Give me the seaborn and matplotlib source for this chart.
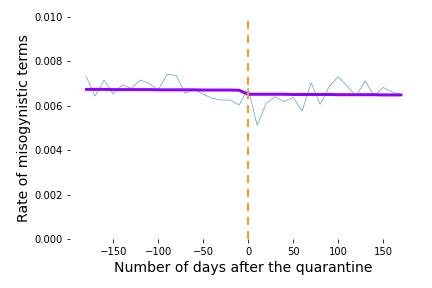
import matplotlib
matplotlib.use("Agg")
import matplotlib.pyplot as plt
import seaborn as sns
import numpy as np
import pandas as pd

days = [-180, -170, -160, -150, -140, -130, -120, -110, -100, -90, -80, -70, -60, -50, -40, -30, -20, -10, 0,
        10, 20, 30, 40, 50, 60, 70, 80, 90, 100, 110, 120, 130, 140, 150, 160, 170]
rate = [0.00731, 0.00644, 0.00716, 0.00653, 0.00694, 0.00679, 0.00716, 0.00701, 0.00671, 0.00742,
        0.00737, 0.00656, 0.00674, 0.00652, 0.00634, 0.00626, 0.00626, 0.00604, 0.00679,
        0.00513, 0.00611, 0.00641, 0.00619, 0.00638, 0.00577, 0.00704, 0.00607, 0.00686,
        0.00731, 0.00689, 0.00644, 0.00713, 0.00644, 0.00683, 0.00662, 0.00650]
fit = [0.00674, 0.00674, 0.00674, 0.00673, 0.00673, 0.00673, 0.00673, 0.00673, 0.00672, 0.00672,
       0.00672, 0.00672, 0.00672, 0.00671, 0.00671, 0.00671, 0.00671, 0.00670, 0.00652,
       0.00652, 0.00652, 0.00652, 0.00652, 0.00651, 0.00651, 0.00651, 0.00651, 0.00651,
       0.00650, 0.00650, 0.00650, 0.00650, 0.00650, 0.00649, 0.00649, 0.00649]

df = pd.DataFrame({"day": days, "rate": rate, "fit": fit})

sns.set_style("ticks", rc={"text.color": "black", "axes.labelcolor": "black",
                           "xtick.color": "black", "ytick.color": "black"})
fig, ax = plt.subplots(figsize=(6, 4), dpi=72)
fig.subplots_adjust(left=0.163, right=0.965, bottom=0.170, top=0.941)

sns.lineplot(data=df, x="day", y="rate", ax=ax, color="#5a9fd6", lw=0.7)
sns.lineplot(data=df, x="day", y="fit", ax=ax, color="#8f00ff", lw=3)
ax.axvline(0, color="#ff9c1a", lw=2, ls=(0, (4, 3)), ymin=0, ymax=1)

ax.set_ylim(0, 0.010)
ax.set_yticks([0, 0.002, 0.004, 0.006, 0.008, 0.010])
ax.set_yticklabels(["0.000", "0.002", "0.004", "0.006", "0.008", "0.010"])
ax.set_xticks([-150, -100, -50, 0, 50, 100, 150])
ax.tick_params(labelsize=10, length=3.5, width=0.8, pad=4)
ax.set_xlabel("Number of days after the quarantine", fontsize=14)
ax.set_ylabel("Rate of misogynistic terms", fontsize=14)
sns.despine(ax=ax, left=True, bottom=True)

fig.savefig("out.png", dpi=72)
